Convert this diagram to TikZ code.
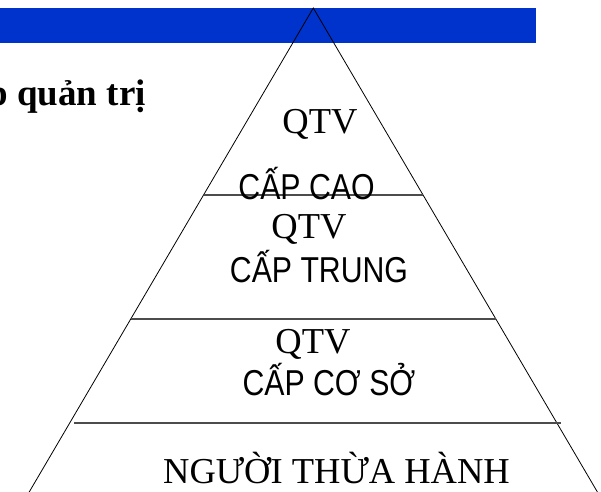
\documentclass[tikz,border=0pt]{standalone}
\usepackage{fontspec}
\setmainfont{Liberation Serif}
\newfontfamily\narrowsans[FakeStretch=0.84]{Liberation Sans}
\definecolor{barblue}{HTML}{0033CC}
\tikzset{
  edge/.style={black, line width=0.8pt},
  tier/.style={black!70, line width=1.3pt},
  serif/.style={inner sep=0pt, anchor=base, font=\fontsize{36.5}{40}\selectfont},
  narrow/.style={inner sep=0pt, anchor=base, font=\narrowsans\fontsize{36}{40}\selectfont},
  title/.style={inner sep=0pt, anchor=base east, font=\bfseries\fontsize{37}{40}\selectfont}
}
\begin{document}
\begin{tikzpicture}[x=1pt, y=-1pt]
  \useasboundingbox (0,0) rectangle (601,491);
  \fill[white] (0,0) rectangle (601,491);
  % header bar
  \fill[barblue] (0,8) rectangle (536,43);
  % title fragment
  \node[title] (title) at (146,105) {p quản trị};
  % pyramid outline
  \coordinate (apex) at (313.3,8);
  \coordinate (bl) at (24.5,500);
  \coordinate (br) at (602.1,500);
  \draw[edge] (bl) -- (apex) -- (br);
  % tier separators
  \coordinate (t1l) at (203.5,195); \coordinate (t1r) at (423.1,195);
  \coordinate (t2l) at (130.7,319); \coordinate (t2r) at (495.9,319);
  \coordinate (t3l) at (74,423);    \coordinate (t3r) at (561,423);
  \draw[tier] (t1l) -- (t1r);
  \draw[tier] (t2l) -- (t2r);
  \draw[tier] (t3l) -- (t3r);
  % labels
  \node[serif]  (q1) at (320,133) {QTV};
  \node[narrow] (c1) at (306.5,199) {CẤP CAO};
  \node[serif]  (q2) at (309,238) {QTV};
  \node[narrow] (c2) at (319,282) {CẤP TRUNG};
  \node[serif]  (q3) at (313,353) {QTV};
  \node[narrow] (c3) at (329,395) {CẤP CƠ SỞ};
  \node[serif, anchor=base west] (base) at (163,483) {NGƯỜI THỪA HÀNH};
\end{tikzpicture}
\end{document}
